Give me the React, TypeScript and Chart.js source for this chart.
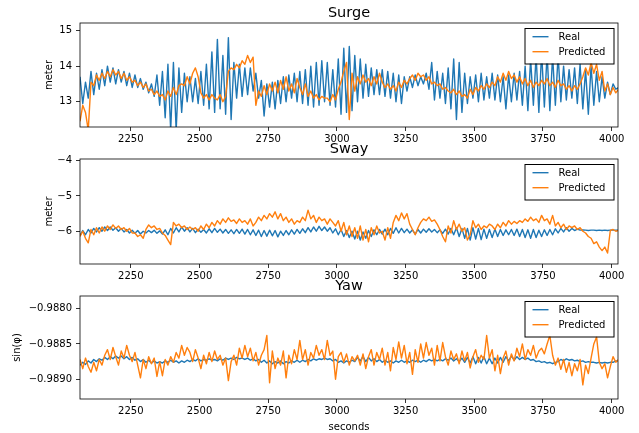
import React, { useEffect, useRef } from "react";
import { Chart, registerables } from "chart.js";

Chart.register(...registerables);

// ---- data ----
const START_TIME = 2065;
const TIME_STEP = 10;
const X_MIN = 2065;
const X_MAX = 4023;
const xTickValues = [2250, 2500, 2750, 3000, 3250, 3500, 3750, 4000];
const surgeTickValues = [13, 14, 15];
const swayTickValues = [-6, -5, -4];
const yawTickValues = [-0.989, -0.9885, -0.988];
const legendLabels = ["Real", "Predicted"];
const panelTitles = ["Surge", "Sway", "Yaw"];
const yAxisLabels = ["meter", "meter", "sin(φ)"];
const xAxisLabel = "seconds";

const surgeReal = [
  13.70, 12.95, 13.55, 13.10, 13.85, 13.20, 13.80, 13.35, 13.90, 13.45,
  14.00, 13.55, 13.95, 13.50, 13.90, 13.55, 13.85, 13.45, 13.80, 13.40,
  13.75, 13.40, 13.65, 13.35, 13.55, 13.25, 13.50, 13.15, 13.75, 12.90,
  13.85, 12.55, 14.05, 12.20, 14.10, 12.20, 13.95, 12.70, 13.80, 13.00,
  13.70, 13.00, 13.65, 12.95, 13.85, 12.90, 14.05, 12.80, 14.40, 12.70,
  14.75, 12.80, 14.30, 12.65, 14.80, 12.50, 14.10, 13.10, 14.05, 13.15,
  13.95, 13.20, 13.95, 13.30, 13.80, 13.10, 13.60, 12.60, 13.50, 12.85,
  13.55, 12.80, 13.60, 12.95, 13.70, 13.00, 13.75, 13.10, 13.80, 13.00,
  13.85, 12.95, 13.90, 12.90, 14.00, 12.85, 14.10, 12.90, 14.15, 13.00,
  14.10, 12.90, 13.90, 12.85, 14.20, 12.65, 14.50, 12.70, 14.55, 12.75,
  14.30, 13.00, 14.20, 13.10, 14.05, 13.15, 13.95, 13.20, 13.90, 13.20,
  13.90, 13.15, 13.85, 13.10, 13.80, 13.00, 13.75, 12.95, 13.70, 13.30,
  13.70, 13.40, 13.75, 13.45, 13.70, 13.50, 13.80, 13.35, 14.10, 13.05,
  13.85, 13.10, 13.80, 12.95, 13.95, 12.80, 14.20, 12.50, 14.10, 12.70,
  13.80, 12.95, 13.70, 13.10, 13.75, 13.00, 13.80, 13.05, 13.70, 13.10,
  13.80, 13.05, 13.75, 13.00, 13.70, 12.80, 13.75, 13.00, 13.80, 13.05,
  13.85, 12.90, 14.00, 12.75, 14.20, 12.90, 14.30, 12.70, 14.40, 12.85,
  14.35, 12.75, 14.30, 12.90, 14.30, 13.00, 14.00, 13.05, 13.90, 13.10,
  13.95, 12.95, 14.05, 12.80, 13.90, 12.65, 14.00, 12.90, 13.85, 13.00,
  13.70, 13.10, 13.55, 13.20, 13.50, 13.35, 13.40,
];

const surgePredicted = [
  12.45, 12.90, 12.70, 12.20, 13.55, 13.45, 13.75, 13.60, 13.80, 13.65,
  13.85, 13.70, 13.90, 13.75, 13.85, 13.65, 13.80, 13.60, 13.70, 13.55,
  13.60, 13.45, 13.55, 13.40, 13.50, 13.30, 13.35, 13.20, 13.30, 13.15,
  13.20, 13.05, 13.30, 13.15, 13.40, 13.20, 13.45, 13.50, 13.45, 13.70,
  13.50, 13.80, 13.95, 13.70, 13.25, 13.10, 13.20, 13.05, 13.20, 13.10,
  13.05, 13.20, 13.00, 13.15, 13.85, 13.95, 13.90, 14.05, 13.95, 14.15,
  14.05, 14.30, 14.10, 14.25, 12.90, 13.30, 13.15, 13.45, 13.20, 13.50,
  13.30, 13.55, 13.25, 13.60, 13.35, 13.70, 13.30, 13.50, 13.25, 13.65,
  13.40, 13.20, 13.50, 13.15, 13.30, 13.10, 13.20, 13.05, 13.15, 13.10,
  13.10, 13.00, 13.20, 13.05, 13.35, 13.55, 13.85, 14.10, 12.50, 13.80,
  13.30, 13.70, 13.50, 13.75, 13.55, 13.65, 13.45, 13.70, 13.50, 13.80,
  13.55, 13.40, 13.50, 13.35, 13.45, 13.30, 13.55, 13.40, 13.60, 13.50,
  13.65, 13.75, 13.60, 13.80, 13.70, 13.75, 13.60, 13.70, 13.50, 13.55,
  13.45, 13.50, 13.35, 13.40, 13.30, 13.25, 13.35, 13.20, 13.30, 13.15,
  13.20, 13.10, 13.35, 13.20, 13.40, 13.30, 13.45, 13.35, 13.50, 13.40,
  13.55, 13.45, 13.70, 13.55, 13.80, 13.60, 13.85, 13.65, 13.75, 13.55,
  13.70, 13.50, 13.65, 13.45, 13.60, 13.40, 13.55, 13.45, 13.60, 13.50,
  13.65, 13.45, 13.55, 13.40, 13.60, 13.45, 13.50, 13.35, 13.45, 13.30,
  13.45, 13.35, 13.50, 13.70, 13.95, 13.75, 14.10, 13.80, 14.05, 13.60,
  13.85, 13.30, 13.50, 13.20, 13.40, 13.25, 13.35,
];

const swayReal = [
  -6.12, -5.98, -6.10, -5.95, -6.05, -5.92, -6.02, -5.90, -6.00, -5.88,
  -5.98, -5.88, -5.97, -5.90, -6.00, -5.92, -6.02, -5.95, -6.05, -5.97,
  -6.06, -5.98, -6.08, -6.00, -6.05, -5.98, -6.04, -5.97, -6.06, -5.99,
  -6.08, -5.96, -6.10, -5.92, -6.05, -5.90, -6.02, -5.88, -6.00, -5.90,
  -6.02, -5.92, -6.04, -5.94, -6.03, -5.95, -6.05, -5.93, -6.04, -5.92,
  -6.03, -5.94, -6.05, -5.95, -6.06, -5.96, -6.07, -5.95, -6.06, -5.94,
  -6.08, -5.95, -6.10, -5.96, -6.12, -5.97, -6.15, -5.98, -6.14, -5.97,
  -6.13, -5.98, -6.16, -6.00, -6.12, -5.98, -6.10, -5.96, -6.08, -5.95,
  -6.06, -5.93, -6.04, -5.90, -6.02, -5.88, -6.00, -5.86, -5.98, -5.88,
  -6.00, -5.90, -6.05, -5.93, -6.10, -5.95, -6.15, -5.98, -6.18, -6.00,
  -6.22, -6.00, -6.25, -6.02, -6.20, -5.98, -6.15, -5.96, -6.10, -5.95,
  -6.08, -5.94, -6.10, -5.92, -6.06, -5.90, -6.05, -5.92, -6.04, -5.94,
  -6.05, -5.96, -6.08, -5.95, -6.05, -5.94, -6.03, -5.93, -6.02, -5.95,
  -6.04, -5.96, -6.06, -5.94, -6.08, -5.92, -6.10, -5.90, -6.15, -5.92,
  -6.20, -5.92, -6.25, -5.90, -6.22, -5.92, -6.24, -5.94, -6.20, -5.95,
  -6.18, -5.94, -6.15, -5.95, -6.12, -5.96, -6.10, -5.95, -6.12, -5.94,
  -6.15, -5.95, -6.18, -5.96, -6.20, -5.95, -6.18, -5.97, -6.15, -5.96,
  -6.12, -5.95, -6.10, -5.93, -6.05, -5.92, -6.02, -5.90, -6.00, -5.92,
  -5.98, -5.94, -5.97, -5.96, -5.97, -5.98, -5.97, -5.97, -5.98, -5.97,
  -5.98, -5.97, -5.98, -5.97, -5.97, -5.97, -5.97,
];

const swayPredicted = [
  -6.15, -6.00, -6.20, -6.33, -5.95, -6.10, -5.90, -6.05, -5.88, -6.00,
  -5.85, -5.95, -5.82, -5.92, -5.85, -5.95, -5.90, -6.00, -5.92, -6.05,
  -6.05, -6.15, -6.10, -6.20, -5.95, -5.82, -5.90, -5.85, -5.95, -5.92,
  -6.05, -6.12, -6.25, -6.38, -5.75, -5.85, -5.80, -5.90, -5.85, -5.95,
  -5.88, -5.95, -5.90, -6.00, -5.85, -5.95, -5.80, -5.90, -5.75, -5.85,
  -5.70, -5.80, -5.65, -5.75, -5.62, -5.72, -5.68, -5.78, -5.65, -5.75,
  -5.70, -5.80, -5.65, -5.85, -5.75, -5.60, -5.70, -5.55, -5.65, -5.50,
  -5.60, -5.45, -5.65, -5.50, -5.70, -5.60, -5.75, -5.65, -5.80, -5.70,
  -5.75, -5.60, -5.70, -5.40, -5.65, -5.55, -5.75, -5.60, -5.70, -5.65,
  -5.80, -5.65, -5.75, -5.85, -5.70, -6.00, -5.75, -6.10, -5.85, -6.15,
  -5.90, -6.20, -5.85, -6.25, -5.95, -6.30, -5.90, -6.10, -5.85, -6.05,
  -6.00, -6.25, -5.90, -6.20, -5.75, -5.55, -5.70, -5.48, -5.65, -5.50,
  -5.80, -5.95, -6.10, -5.90, -5.75, -5.65, -5.70, -5.60, -5.72, -5.68,
  -5.80, -5.95, -6.15, -6.30, -5.85, -6.05, -5.70, -5.95, -5.80, -6.00,
  -5.90, -6.25, -6.10, -5.70, -5.90, -5.80, -5.95, -5.85, -5.90, -5.80,
  -5.85, -5.95, -5.80, -5.90, -5.75, -5.85, -5.70, -5.80, -5.72, -5.78,
  -5.70, -5.75, -5.65, -5.72, -5.60, -5.70, -5.65, -5.75, -5.55, -5.70,
  -5.65, -5.80, -5.55, -5.85, -5.75, -5.90, -5.80, -5.95, -5.85, -5.90,
  -5.85, -5.95, -5.90, -6.00, -6.05, -6.15, -6.20, -6.35, -6.30, -6.45,
  -6.55, -6.45, -6.62, -5.98, -5.95, -6.00, -5.97,
];

const yawReal = [
  -0.98880, -0.98876, -0.98879, -0.98874, -0.98877, -0.98872, -0.98875, -0.98871, -0.98873, -0.98869,
  -0.98872, -0.98868, -0.98871, -0.98867, -0.98870, -0.98867, -0.98871, -0.98868, -0.98872, -0.98869,
  -0.98873, -0.98871, -0.98875, -0.98872, -0.98876, -0.98873, -0.98877, -0.98874, -0.98877, -0.98875,
  -0.98877, -0.98874, -0.98876, -0.98873, -0.98876, -0.98874, -0.98877, -0.98874, -0.98876, -0.98873,
  -0.98875, -0.98872, -0.98874, -0.98871, -0.98874, -0.98872, -0.98873, -0.98871, -0.98873, -0.98872,
  -0.98874, -0.98871, -0.98873, -0.98870, -0.98872, -0.98870, -0.98872, -0.98869, -0.98871, -0.98870,
  -0.98872, -0.98870, -0.98873, -0.98871, -0.98874, -0.98872, -0.98876, -0.98873, -0.98877, -0.98874,
  -0.98878, -0.98875, -0.98877, -0.98874, -0.98878, -0.98875, -0.98877, -0.98874, -0.98876, -0.98873,
  -0.98876, -0.98873, -0.98875, -0.98872, -0.98874, -0.98871, -0.98873, -0.98871, -0.98872, -0.98870,
  -0.98872, -0.98871, -0.98874, -0.98872, -0.98876, -0.98874, -0.98877, -0.98874, -0.98876, -0.98873,
  -0.98875, -0.98869, -0.98874, -0.98868, -0.98875, -0.98869, -0.98874, -0.98871, -0.98875, -0.98872,
  -0.98876, -0.98873, -0.98876, -0.98874, -0.98877, -0.98874, -0.98876, -0.98873, -0.98876, -0.98874,
  -0.98876, -0.98873, -0.98875, -0.98873, -0.98876, -0.98873, -0.98875, -0.98872, -0.98874, -0.98872,
  -0.98874, -0.98872, -0.98874, -0.98871, -0.98873, -0.98870, -0.98874, -0.98871, -0.98875, -0.98870,
  -0.98876, -0.98869, -0.98877, -0.98868, -0.98878, -0.98869, -0.98877, -0.98868, -0.98878, -0.98870,
  -0.98878, -0.98870, -0.98877, -0.98869, -0.98876, -0.98868, -0.98874, -0.98867, -0.98873, -0.98868,
  -0.98872, -0.98869, -0.98872, -0.98870, -0.98873, -0.98872, -0.98875, -0.98874, -0.98876, -0.98875,
  -0.98877, -0.98876, -0.98878, -0.98876, -0.98875, -0.98872, -0.98874, -0.98871, -0.98873, -0.98872,
  -0.98874, -0.98873, -0.98875, -0.98874, -0.98876, -0.98875, -0.98876, -0.98876, -0.98877, -0.98876,
  -0.98877, -0.98876, -0.98877, -0.98876, -0.98876, -0.98874, -0.98874,
];

const yawPredicted = [
  -0.98872, -0.98885, -0.98870, -0.98882, -0.98890, -0.98876, -0.98888, -0.98872, -0.98880, -0.98866,
  -0.98858, -0.98872, -0.98855, -0.98868, -0.98880, -0.98860, -0.98870, -0.98852, -0.98866, -0.98875,
  -0.98862, -0.98880, -0.98898, -0.98872, -0.98885, -0.98868, -0.98878, -0.98870, -0.98896, -0.98875,
  -0.98895, -0.98872, -0.98880, -0.98868, -0.98876, -0.98862, -0.98870, -0.98852, -0.98866, -0.98855,
  -0.98862, -0.98875, -0.98858, -0.98870, -0.98885, -0.98866, -0.98878, -0.98862, -0.98875, -0.98860,
  -0.98872, -0.98866, -0.98880, -0.98870, -0.98902, -0.98875, -0.98866, -0.98880, -0.98856, -0.98870,
  -0.98852, -0.98868, -0.98856, -0.98874, -0.98862, -0.98880, -0.98866, -0.98858, -0.98838, -0.98905,
  -0.98860, -0.98885, -0.98870, -0.98880, -0.98860, -0.98898, -0.98866, -0.98878, -0.98858, -0.98872,
  -0.98845, -0.98872, -0.98858, -0.98880, -0.98862, -0.98870, -0.98852, -0.98866, -0.98858, -0.98872,
  -0.98845, -0.98866, -0.98860, -0.98900, -0.98868, -0.98862, -0.98876, -0.98864, -0.98880, -0.98868,
  -0.98874, -0.98866, -0.98880, -0.98864, -0.98885, -0.98868, -0.98858, -0.98880, -0.98862, -0.98872,
  -0.98856, -0.98880, -0.98862, -0.98888, -0.98855, -0.98872, -0.98847, -0.98870, -0.98852, -0.98878,
  -0.98862, -0.98893, -0.98858, -0.98876, -0.98850, -0.98870, -0.98848, -0.98866, -0.98856, -0.98880,
  -0.98852, -0.98874, -0.98848, -0.98868, -0.98880, -0.98860, -0.98872, -0.98864, -0.98878, -0.98860,
  -0.98874, -0.98862, -0.98884, -0.98868, -0.98858, -0.98876, -0.98866, -0.98872, -0.98838, -0.98870,
  -0.98858, -0.98888, -0.98866, -0.98892, -0.98870, -0.98860, -0.98880, -0.98864, -0.98874, -0.98856,
  -0.98868, -0.98850, -0.98872, -0.98858, -0.98866, -0.98852, -0.98870, -0.98860, -0.98856, -0.98864,
  -0.98850, -0.98838, -0.98866, -0.98880, -0.98870, -0.98886, -0.98872, -0.98890, -0.98876, -0.98895,
  -0.98878, -0.98888, -0.98872, -0.98908, -0.98880, -0.98892, -0.98870, -0.98850, -0.98840, -0.98876,
  -0.98885, -0.98878, -0.98898, -0.98882, -0.98868, -0.98876, -0.98872,
];

// ---- styling ----
const FONT = '"DejaVu Sans", "Liberation Sans", sans-serif';
const BLUE = "#1f77b4";
const ORANGE = "#ff7f0e";
const W = 639;
const H = 433;

const minus = (s: string) => s.replace("-", "\u2212");

type Panel = {
  title: string;
  ylabel: string;
  ylabelX: number;
  real: number[];
  pred: number[];
  yMin: number;
  yMax: number;
  ticks: number[];
  fmt: (v: number) => string;
  top: number;
  bottom: number;
  showX: boolean;
};

const PANELS: Panel[] = [
  {
    title: panelTitles[0], ylabel: yAxisLabels[0], ylabelX: 49,
    real: surgeReal, pred: surgePredicted, yMin: 12.29, yMax: 15.21,
    ticks: surgeTickValues, fmt: (v) => minus(v.toFixed(0)),
    top: 23, bottom: 127, showX: false,
  },
  {
    title: panelTitles[1], ylabel: yAxisLabels[1], ylabelX: 49,
    real: swayReal, pred: swayPredicted, yMin: -6.93, yMax: -3.95,
    ticks: swayTickValues, fmt: (v) => minus(v.toFixed(0)),
    top: 159, bottom: 264, showX: false,
  },
  {
    title: panelTitles[2], ylabel: yAxisLabels[2], ylabelX: 17.5,
    real: yawReal, pred: yawPredicted, yMin: -0.98928, yMax: -0.98782,
    ticks: yawTickValues, fmt: (v) => minus(v.toFixed(4)),
    top: 296, bottom: 399, showX: true,
  },
];

const toPoints = (arr: number[]) =>
  arr.map((v, i) => ({ x: START_TIME + i * TIME_STEP, y: v }));

function PanelChart({ p }: { p: Panel }) {
  const ref = useRef<HTMLCanvasElement | null>(null);
  useEffect(() => {
    if (!ref.current) return;
    const decor = {
      id: "decor",
      afterDraw(chart: any) {
        const { ctx, chartArea: a } = chart;
        ctx.save();
        ctx.strokeStyle = "#000";
        ctx.lineWidth = 0.8;
        ctx.strokeRect(a.left, a.top, a.right - a.left, a.bottom - a.top);
        ctx.fillStyle = "#000";
        ctx.font = `14.5px ${FONT}`;
        ctx.textAlign = "center";
        ctx.textBaseline = "alphabetic";
        ctx.fillText(p.title, (a.left + a.right) / 2, a.top - 5.6);
        ctx.font = `10px ${FONT}`;
        ctx.save();
        ctx.translate(p.ylabelX, (a.top + a.bottom) / 2);
        ctx.rotate(-Math.PI / 2);
        ctx.textBaseline = "middle";
        ctx.fillText(p.ylabel, 0, 0);
        ctx.restore();
        if (p.showX) {
          ctx.textBaseline = "alphabetic";
          ctx.fillText(xAxisLabel, (a.left + a.right) / 2, 430);
        }
        // legend
        const lx = a.right - 93.5;
        const ly = a.top + 5;
        const lw = 89;
        const lh = 35.5;
        ctx.fillStyle = "#fff";
        ctx.fillRect(lx, ly, lw, lh);
        ctx.strokeStyle = "#000";
        ctx.lineWidth = 1;
        ctx.strokeRect(lx + 0.5, ly + 0.5, lw, lh);
        const rows = [
          { c: BLUE, t: legendLabels[0], y: ly + 8.7 },
          { c: ORANGE, t: legendLabels[1], y: ly + 23.7 },
        ];
        ctx.textAlign = "left";
        ctx.textBaseline = "middle";
        ctx.font = `10px ${FONT}`;
        for (const r of rows) {
          ctx.strokeStyle = r.c;
          ctx.lineWidth = 1.4;
          ctx.beginPath();
          ctx.moveTo(lx + 8, r.y);
          ctx.lineTo(lx + 24, r.y);
          ctx.stroke();
          ctx.fillStyle = "#000";
          ctx.fillText(r.t, lx + 34, r.y + 0.5);
        }
        ctx.restore();
      },
    };
    const chart = new Chart(ref.current, {
      type: "line",
      data: {
        datasets: [
          {
            label: legendLabels[0], data: toPoints(p.real), borderColor: BLUE,
            borderWidth: 1.4, pointRadius: 0, tension: 0, order: 1,
            borderJoinStyle: "round", fill: false,
          },
          {
            label: legendLabels[1], data: toPoints(p.pred), borderColor: ORANGE,
            borderWidth: 1.4, pointRadius: 0, tension: 0, order: 0,
            borderJoinStyle: "round", fill: false,
          },
        ],
      },
      options: {
        responsive: false,
        animation: false,
        events: [],
        layout: { padding: { left: 0, right: W - 618, top: p.top, bottom: H - p.bottom - 20 } },
        plugins: { legend: { display: false }, tooltip: { enabled: false }, title: { display: false } },
        scales: {
          x: {
            type: "linear", min: X_MIN, max: X_MAX,
            afterBuildTicks: (s: any) => { s.ticks = xTickValues.map((v) => ({ value: v })); },
            afterFit: (s: any) => { s.height = 20; },
            ticks: {
              font: { family: FONT, size: 10 }, color: "#000", padding: 2,
              maxRotation: 0, autoSkip: false, callback: (v: any) => String(v),
            },
            grid: { drawOnChartArea: false, drawTicks: true, tickLength: 4, color: "#000", lineWidth: 0.8 },
            border: { display: false },
          },
          y: {
            type: "linear", min: p.yMin, max: p.yMax,
            afterBuildTicks: (s: any) => { s.ticks = p.ticks.map((v) => ({ value: v })); },
            afterFit: (s: any) => { s.width = 80; },
            ticks: {
              font: { family: FONT, size: 10 }, color: "#000", padding: 4,
              autoSkip: false, callback: (v: any) => p.fmt(Number(v)),
            },
            grid: { drawOnChartArea: false, drawTicks: true, tickLength: 4, color: "#000", lineWidth: 0.8 },
            border: { display: false },
          },
        },
      },
      plugins: [decor],
    } as any);
    return () => chart.destroy();
  }, [p]);
  return (
    <canvas
      ref={ref}
      width={W}
      height={H}
      style={{ position: "absolute", left: 0, top: 0, width: W, height: H }}
    />
  );
}

export default function App() {
  return (
    <div style={{ position: "absolute", left: 0, top: 0, width: W, height: H, background: "#fff" }}>
      {PANELS.map((p) => (
        <PanelChart key={p.title} p={p} />
      ))}
    </div>
  );
}
